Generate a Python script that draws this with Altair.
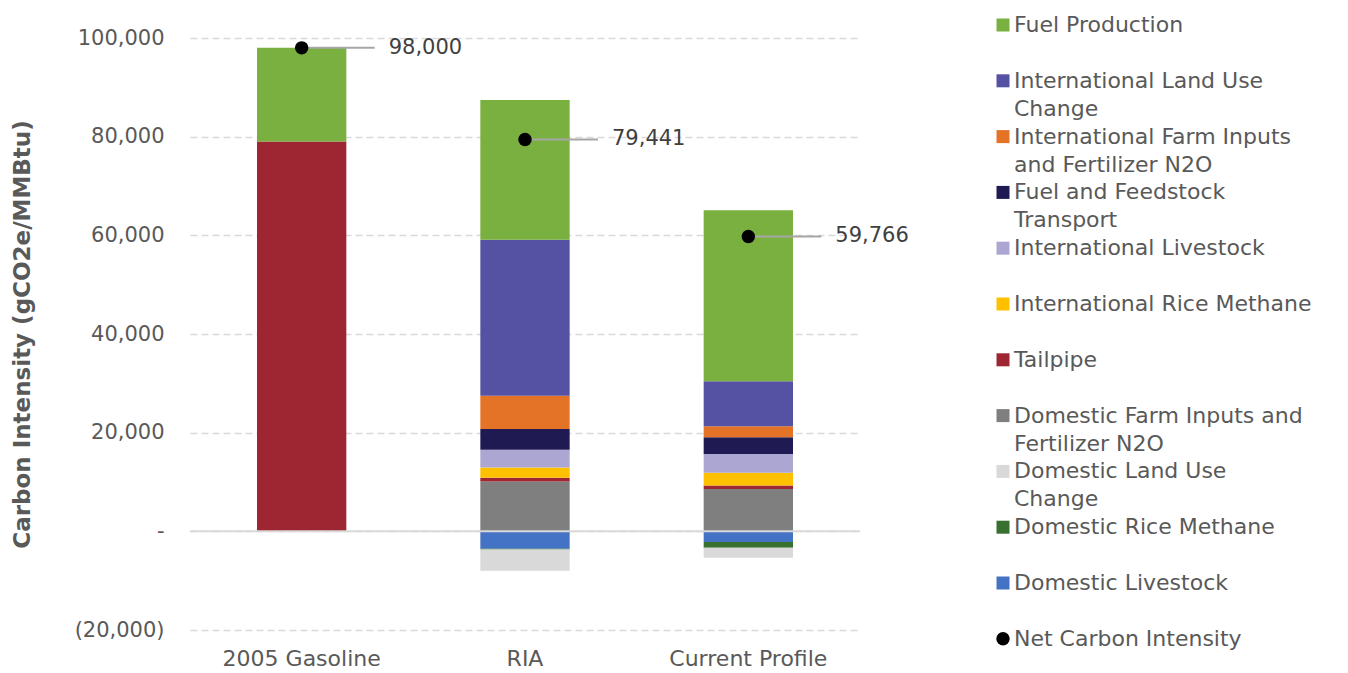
import altair as alt
import pandas as pd

# Scenarios along the x axis
scenarios = ["2005 Gasoline", "RIA", "Current Profile"]

# Emission components in stacking order (first entry sits next to zero)
series = [
    "Domestic Livestock",
    "Domestic Rice Methane",
    "Domestic Land Use Change",
    "Domestic Farm Inputs and Fertilizer N2O",
    "Tailpipe",
    "International Rice Methane",
    "International Livestock",
    "Fuel and Feedstock Transport",
    "International Farm Inputs and Fertilizer N2O",
    "International Land Use Change",
    "Fuel Production",
]
series_colors = [
    "#4472C4",  # Domestic Livestock
    "#38702F",  # Domestic Rice Methane
    "#D9D9D9",  # Domestic Land Use Change
    "#7F7F7F",  # Domestic Farm Inputs and Fertilizer N2O
    "#9E2532",  # Tailpipe
    "#FFC000",  # International Rice Methane
    "#ACA6D3",  # International Livestock
    "#1F1B52",  # Fuel and Feedstock Transport
    "#E47327",  # International Farm Inputs and Fertilizer N2O
    "#5652A3",  # International Land Use Change
    "#7AB03F",  # Fuel Production
]

# Component values (gCO2e/MMBtu), same order as `series`
gasoline_2005 = [0, 0, 0, 0, 79000, 0, 0, 0, 0, 0, 19000]
ria = [-3550, -150, -4300, 10100, 750, 2100, 3600, 4200, 6750, 31600, 28341]
current_profile = [-2160, -1150, -2030, 8600, 680, 2570, 3850, 3380, 2230, 9100, 34696]

# Net carbon intensity per scenario
net_ci = [98000, 79441, 59766]

# Legend entries, top to bottom (label split over two lines where wrapped)
legend_line1 = [
    "Fuel Production",
    "International Land Use",
    "International Farm Inputs",
    "Fuel and Feedstock",
    "International Livestock",
    "International Rice Methane",
    "Tailpipe",
    "Domestic Farm Inputs and",
    "Domestic Land Use",
    "Domestic Rice Methane",
    "Domestic Livestock",
    "Net Carbon Intensity",
]
legend_line2 = [
    "", "Change", "and Fertilizer N2O", "Transport", "", "", "",
    "Fertilizer N2O", "Change", "", "", "",
]

FONT = "DejaVu Sans"
TEXT_GREY = "#595959"

# ---- tables -------------------------------------------------------------
rows = []
for scen, vals in zip(scenarios, [gasoline_2005, ria, current_profile]):
    for rank, (name, val) in enumerate(zip(series, vals)):
        if val != 0:
            rows.append({"scenario": scen, "series": name, "value": val, "rank": rank})
bars_df = pd.DataFrame(rows)

net_df = pd.DataFrame({"scenario": scenarios, "net": net_ci})
zero_df = pd.DataFrame({"v": [0]})

legend_colors = list(reversed(series_colors)) + ["#000000"]
legend_df = pd.DataFrame({
    "idx": list(range(len(legend_line1))),
    "line1": legend_line1,
    "line2": legend_line2,
    "color": legend_colors,
    "kind": ["square"] * (len(legend_line1) - 1) + ["circle"],
})

# ---- main stacked bar chart ----------------------------------------------
x_enc = alt.X(
    "scenario:N",
    sort=scenarios,
    title=None,
    scale=alt.Scale(paddingInner=0.6, paddingOuter=0.3),
    axis=alt.Axis(
        labelAngle=0, labelFontSize=22, labelColor=TEXT_GREY, labelPadding=18,
        ticks=False, domain=False, grid=False,
    ),
)
y_scale = alt.Scale(domain=[-20000, 100000], nice=False, zero=False)
y_axis = alt.Axis(
    values=list(range(-20000, 100001, 20000)),
    labelExpr=(
        "datum.value == 0 ? '-' : datum.value < 0 ? "
        "'(' + format(-datum.value, ',') + ')' : format(datum.value, ',')"
    ),
    labelFontSize=21, labelColor=TEXT_GREY, labelPadding=26,
    ticks=False, domain=False,
    grid=True, gridDash=[7, 4], gridColor="#D9D9D9", gridWidth=1.5,
    title="Carbon Intensity (gCO2e/MMBtu)",
    titleFontSize=23, titleColor=TEXT_GREY, titleFontWeight="bold",
    titlePadding=40,
)

bars = alt.Chart(bars_df).mark_bar().encode(
    x=x_enc,
    y=alt.Y("value:Q", stack="zero", scale=y_scale, axis=y_axis),
    color=alt.Color("series:N", scale=alt.Scale(domain=series, range=series_colors), legend=None),
    order=alt.Order("rank:Q", sort="ascending"),
)

zero_line = alt.Chart(zero_df).mark_rule(color="#D9D9D9", strokeWidth=2).encode(
    y=alt.Y("v:Q", scale=y_scale)
)

leaders = alt.Chart(net_df).mark_rule(color="#A6A6A6", strokeWidth=2, x2Offset=73).encode(
    x=alt.X("scenario:N", sort=scenarios, bandPosition=0.5),
    x2=alt.X2("scenario:N", bandPosition=0.5),
    y=alt.Y("net:Q", scale=y_scale),
)

dots = alt.Chart(net_df).mark_circle(size=180, color="#000000", opacity=1).encode(
    x=alt.X("scenario:N", sort=scenarios),
    y=alt.Y("net:Q", scale=y_scale),
)

net_labels = alt.Chart(net_df).mark_text(
    align="left", baseline="middle", dx=87, fontSize=21, color="#404040"
).encode(
    x=alt.X("scenario:N", sort=scenarios),
    y=alt.Y("net:Q", scale=y_scale),
    text=alt.Text("net:Q", format=","),
)

main = alt.layer(bars, zero_line, leaders, dots, net_labels).properties(width=670, height=592)

# ---- legend panel ---------------------------------------------------------
row_step = 55.8
leg_scale = alt.Scale(domain=[13 / row_step, (592 + 13) / row_step], reverse=True, nice=False, zero=False)
leg_y = alt.Y("idx:Q", scale=leg_scale, axis=None)

leg_base = alt.Chart(legend_df)
leg_squares = leg_base.transform_filter("datum.kind == 'square'").mark_square(size=169, opacity=1).encode(
    x=alt.value(8), y=leg_y, color=alt.Color("color:N", scale=None),
)
leg_circle = leg_base.transform_filter("datum.kind == 'circle'").mark_circle(size=180, opacity=1).encode(
    x=alt.value(8), y=leg_y, color=alt.Color("color:N", scale=None),
)
leg_text1 = leg_base.mark_text(align="left", baseline="middle", fontSize=22, color=TEXT_GREY).encode(
    x=alt.value(19), y=leg_y, text="line1:N",
)
leg_text2 = leg_base.mark_text(align="left", baseline="middle", dy=28, fontSize=22, color=TEXT_GREY).encode(
    x=alt.value(19), y=leg_y, text="line2:N",
)
legend_panel = alt.layer(leg_squares, leg_circle, leg_text1, leg_text2).properties(width=335, height=592)

chart = (
    alt.hconcat(main, legend_panel, spacing=135, bounds="flush")
    .properties(padding={"top": 13, "left": 10, "right": 0, "bottom": 0})
    .configure(font=FONT)
    .configure_view(stroke="transparent")
)

chart.save("out.html", embed_options={"renderer": "svg", "actions": False})
